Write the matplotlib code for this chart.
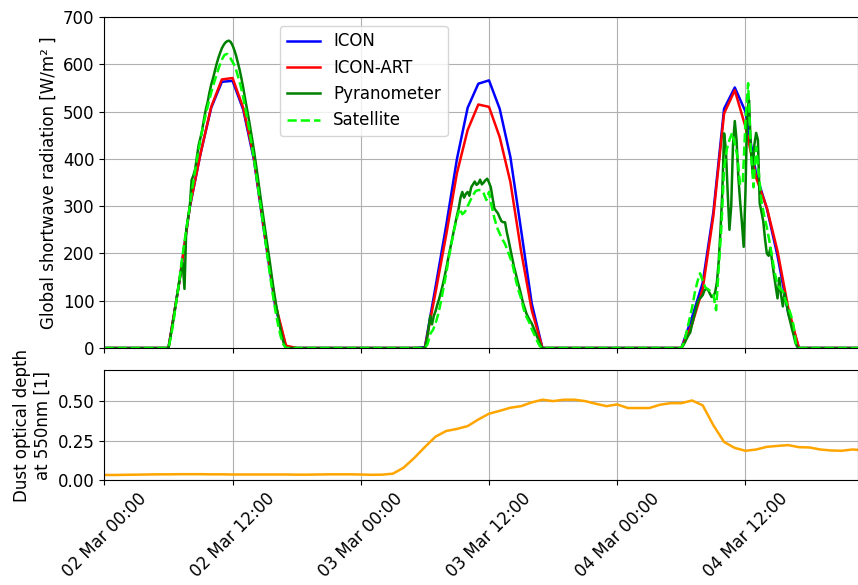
import numpy as np
import pandas as pd
import matplotlib
matplotlib.use('Agg')
import matplotlib.pyplot as plt
import matplotlib.dates as mdates

plt.rcParams['font.size'] = 12

# %% data

start = pd.Timestamp('2024-03-02 00:00')
end = pd.Timestamp('2024-03-04 22:30')

# hourly model output, 02 Mar 00:00 ... 04 Mar 23:00
icon = [0, 0, 0, 0, 0, 0, 0, 137, 298, 411, 508, 563,
        565, 504, 398, 238, 88, 3, 0, 0, 0, 0, 0, 0,
        0, 0, 0, 0, 0, 0, 2, 130, 260, 400, 508, 559,
        566, 506, 404, 250, 94, 0, 0, 0, 0, 0, 0, 0,
        0, 0, 0, 0, 0, 0, 0, 65, 138, 288, 506, 551,
        500, 368, 295, 195, 75, 0, 0, 0, 0, 0, 0, 0]
icon_art = [0, 0, 0, 0, 0, 0, 0, 137, 299, 411, 510, 568,
            571, 508, 404, 243, 94, 5, 0, 0, 0, 0, 0, 0,
            0, 0, 0, 0, 0, 0, 0, 118, 240, 370, 461, 515,
            510, 446, 351, 205, 80, 0, 0, 0, 0, 0, 0, 0,
            0, 0, 0, 0, 0, 0, 0, 50, 125, 280, 496, 545,
            468, 360, 297, 205, 85, 0, 0, 0, 0, 0, 0, 0]
dust = [0.032, 0.032, 0.033, 0.034, 0.035, 0.036, 0.036, 0.037, 0.037, 0.037, 0.036, 0.036,
        0.035, 0.035, 0.035, 0.035, 0.035, 0.035, 0.034, 0.034, 0.035, 0.036, 0.036, 0.036,
        0.035, 0.033, 0.034, 0.040, 0.078, 0.140, 0.210, 0.276, 0.312, 0.325, 0.343, 0.385,
        0.422, 0.440, 0.460, 0.470, 0.494, 0.511, 0.502, 0.511, 0.511, 0.502, 0.485, 0.470,
        0.481, 0.458, 0.458, 0.458, 0.479, 0.489, 0.489, 0.506, 0.475, 0.348, 0.242, 0.204,
        0.186, 0.194, 0.211, 0.217, 0.222, 0.209, 0.207, 0.194, 0.188, 0.186, 0.194, 0.190]

# pyranometer, 10 min, 06:00-17:00 each day (zero at night)
pyr_day1 = [0, 20, 42, 65, 90, 116,
            140, 160, 180, 125, 250, 275,
            300, 355, 365, 378, 405, 430,
            445, 462, 485, 505, 520, 540,
            557, 570, 585, 600, 613, 624,
            634, 641, 646, 649, 650, 647,
            640, 630, 618, 603, 588, 570,
            550, 528, 508, 487, 465, 442,
            418, 392, 366, 338, 311, 284,
            258, 232, 206, 180, 152, 126,
            102, 80, 58, 38, 20, 7,
            0]
pyr_day2 = [0, 15, 40, 68, 50, 68,
            78, 92, 104, 118, 133, 150,
            168, 188, 206, 225, 244, 262,
            280, 296, 318, 330, 318, 326,
            330, 322, 340, 346, 352, 345,
            348, 356, 346, 350, 355, 358,
            350, 340, 318, 295, 290, 285,
            276, 268, 266, 266, 245, 228,
            209, 190, 172, 158, 142, 128,
            113, 97, 85, 73, 65, 58,
            52, 43, 34, 24, 15, 6,
            0]
pyr_day3 = [0, 5, 12, 20, 27, 33,
            50, 65, 80, 95, 104, 107,
            112, 122, 125, 123, 115, 108,
            110, 118, 140, 185, 250, 330,
            454, 420, 330, 250, 300, 430,
            480, 440, 362, 310, 265, 214,
            330, 500, 524, 425, 370, 430,
            455, 440, 306, 288, 268, 230,
            200, 195, 212, 182, 155, 130,
            105, 148, 112, 88, 116, 95,
            73, 58, 42, 28, 12, 3,
            0]

# satellite, 15 min, 06:00-17:00 each day
sat_day1 = [0, 25, 60, 100, 140, 185, 225, 262, 300, 340, 375, 410,
            440, 470, 495, 518, 540, 560, 578, 595, 610, 620, 622, 615,
            605, 595, 575, 555, 530, 500, 470, 435, 400, 360, 320, 280,
            240, 195, 155, 115, 80, 50, 25, 8, 0]
sat_day2 = [0, 8, 30, 38, 52, 72, 98, 128, 158, 193, 222, 252,
            275, 295, 283, 288, 300, 312, 323, 332, 334, 334, 327, 313,
            330, 300, 275, 255, 242, 230, 220, 205, 190, 172, 145, 122,
            105, 82, 66, 55, 40, 28, 15, 4, 0]
sat_day3 = [0, 12, 35, 60, 85, 116, 140, 158, 142, 128, 124, 120,
            112, 80, 170, 256, 380, 420, 440, 455, 432, 405, 345, 350,
            480, 560, 420, 340, 425, 370, 310, 280, 255, 225, 192, 158,
            135, 125, 120, 100, 87, 70, 48, 5, 0]

day_starts = ['2024-03-02 06:00', '2024-03-03 06:00', '2024-03-04 06:00']


def join_days(days, freq):
    t = [start]
    v = [0]
    for d0, vals in zip(day_starts, days):
        t += list(pd.date_range(d0, periods=len(vals), freq=freq))
        v += vals
    t.append(pd.Timestamp('2024-03-04 23:00'))
    v.append(0)
    return t, v


hours = pd.date_range(start, periods=len(icon), freq='h')
pyr_t, pyr_v = join_days([pyr_day1, pyr_day2, pyr_day3], '10min')
sat_t, sat_v = join_days([sat_day1, sat_day2, sat_day3], '15min')

# %% plot

lw = 1.8
fig = plt.figure(figsize=(8.58, 5.85), dpi=100)
ax1 = fig.add_axes([0.1216, 0.4051, 0.878, 0.5658])
ax2 = fig.add_axes([0.1216, 0.1795, 0.878, 0.188], sharex=ax1)

ax1.plot(hours, icon, color='blue', lw=lw, label='ICON')
ax1.plot(hours, icon_art, color='red', lw=lw, label='ICON-ART')
ax1.plot(pyr_t, pyr_v, color='green', lw=lw, label='Pyranometer')
ax1.plot(sat_t, sat_v, color='lime', lw=lw, ls='--', label='Satellite')
ax1.set_ylim(0, 700)
ax1.set_ylabel('Global shortwave radiation [W/m² ]')
ax1.grid(True)
ax1.tick_params(labelbottom=False)
ax1.legend(loc='upper left', bbox_to_anchor=(0.2332, 0.9737), borderaxespad=0)

ax2.plot(hours, dust, color='orange', lw=lw)
ax2.set_ylim(0, 0.7)
ax2.set_yticks([0, 0.25, 0.5])
ax2.set_ylabel('Dust optical depth\nat 550nm [1]')
ax2.grid(True)

ax2.set_xlim(start, end)
ax2.xaxis.set_major_locator(mdates.HourLocator(byhour=[0, 12]))
ax2.xaxis.set_major_formatter(mdates.DateFormatter('%d %b %H:%M'))
plt.setp(ax2.get_xticklabels(), rotation=45)

fig.savefig('out.png', dpi=100)
